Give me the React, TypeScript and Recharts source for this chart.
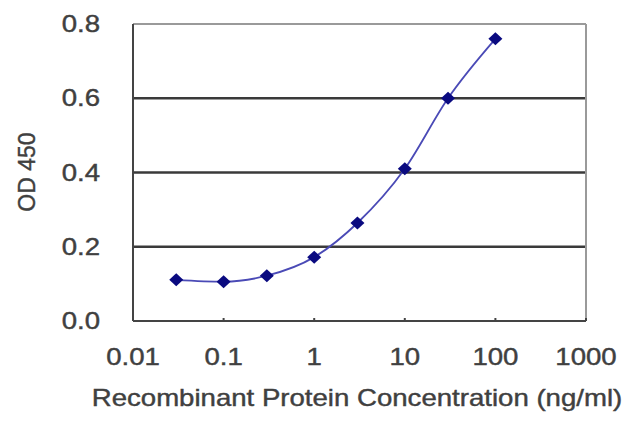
import React from "react";
import { LineChart, Line, XAxis, YAxis, ReferenceLine } from "recharts";

// ELISA standard curve
const concentrations = [0.03, 0.1, 0.3, 1, 3, 10, 30, 100];
const odValues = [0.111, 0.106, 0.122, 0.172, 0.264, 0.41, 0.6, 0.76];

const xTicks = [0.01, 0.1, 1, 10, 100, 1000];
const xTickLabels = ["0.01", "0.1", "1", "10", "100", "1000"];
const yTicks = [0, 0.2, 0.4, 0.6, 0.8];
const yTickLabels = ["0.0", "0.2", "0.4", "0.6", "0.8"];
const gridValues = [0.2, 0.4, 0.6];

const data = concentrations.map((c, i) => ({ conc: c, od: odValues[i] }));

const FONT = "'Liberation Sans', Arial, sans-serif";
const TEXT = "#404040";

const XTick = (props: any) => {
  const idx = xTicks.indexOf(props.payload.value);
  return (
    <text
      transform={`translate(${props.x},365) scale(1.2,1)`}
      textAnchor="middle"
      fontFamily={FONT}
      fontSize={23}
      fill={TEXT}
      stroke={TEXT}
      strokeWidth={0.4}
    >
      {idx >= 0 ? xTickLabels[idx] : props.payload.value}
    </text>
  );
};

const YTick = (props: any) => {
  const idx = yTicks.indexOf(props.payload.value);
  return (
    <text
      transform={`translate(100,${props.y + 8}) scale(1.2,1)`}
      textAnchor="end"
      fontFamily={FONT}
      fontSize={23}
      fill={TEXT}
      stroke={TEXT}
      strokeWidth={0.4}
    >
      {idx >= 0 ? yTickLabels[idx] : props.payload.value}
    </text>
  );
};

const Diamond = (props: any) => {
  const { cx, cy } = props;
  if (cx == null || cy == null) return null;
  return (
    <polygon
      points={`${cx - 7},${cy} ${cx},${cy - 6.5} ${cx + 7},${cy} ${cx},${cy + 6.5}`}
      fill="#0a0a80"
    />
  );
};

export default function App() {
  return (
    <div style={{ position: "absolute", left: 0, top: 0, width: 640, height: 427, background: "#fff" }}>
      <LineChart width={640} height={427} data={data} margin={{ top: 24, right: 54, bottom: 0, left: 0 }}>
        <XAxis
          dataKey="conc"
          type="number"
          scale="log"
          domain={[0.01, 1000]}
          ticks={xTicks}
          allowDataOverflow
          height={106}
          tick={<XTick />}
          tickSize={-3}
          tickLine={{ stroke: "#444", strokeWidth: 2 }}
          axisLine={{ stroke: "#444", strokeWidth: 2 }}
          label={{
            content: () => (
              <text
                transform="translate(357,406) scale(1.2,1)"
                textAnchor="middle"
                fontFamily={FONT}
                fontSize={23}
                fill={TEXT}
                stroke={TEXT}
                strokeWidth={0.4}
              >
                Recombinant Protein Concentration (ng/ml)
              </text>
            ),
          }}
        />
        <YAxis
          type="number"
          domain={[0, 0.8]}
          ticks={yTicks}
          width={133}
          tick={<YTick />}
          tickLine={false}
          axisLine={{ stroke: "#444", strokeWidth: 2 }}
          label={{
            content: () => (
              <text
                transform="translate(35,172) rotate(-90)"
                textAnchor="middle"
                fontFamily={FONT}
                fontSize={23}
                fill={TEXT}
                stroke={TEXT}
                strokeWidth={0.4}
              >
                OD 450
              </text>
            ),
          }}
        />
        {gridValues.map((v) => (
          <ReferenceLine key={v} y={v} stroke="#3a3a3a" strokeWidth={2.5} />
        ))}
        <ReferenceLine y={0.8} stroke="#9a9a9a" strokeWidth={2} />
        <ReferenceLine x={1000} stroke="#9a9a9a" strokeWidth={2} />
        <Line
          type="monotone"
          dataKey="od"
          stroke="#4a4ab6"
          strokeWidth={1.8}
          dot={<Diamond />}
          activeDot={false}
          isAnimationActive={false}
        />
      </LineChart>
    </div>
  );
}
